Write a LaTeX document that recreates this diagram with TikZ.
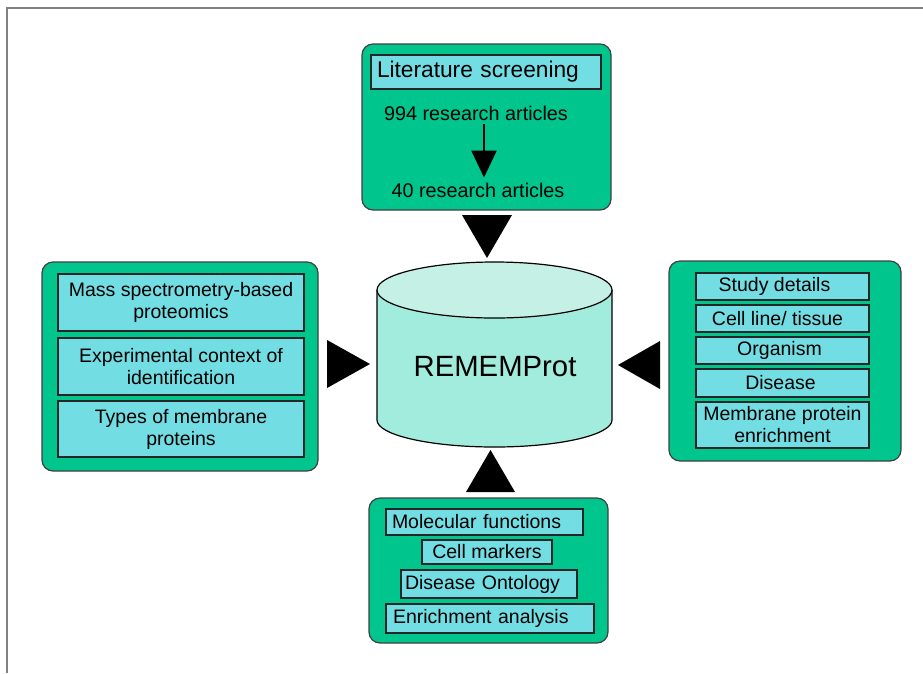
\documentclass[tikz,border=0pt]{standalone}
\usepackage{fontspec}
\setmainfont{Liberation Sans}
\usetikzlibrary{arrows.meta}
\definecolor{boxgreen}{RGB}{0,197,140}
\definecolor{boxcyan}{RGB}{114,221,227}
\definecolor{dbtop}{RGB}{196,240,230}
\definecolor{dbbody}{RGB}{162,236,221}
\definecolor{edgegray}{RGB}{64,64,64}
\definecolor{framegray}{RGB}{128,128,128}
\begin{document}
\begin{tikzpicture}[x=1pt,y=-1pt,
    outerbox/.style={draw=edgegray,fill=boxgreen,line width=1.2pt,rounded corners=11pt,inner sep=0pt},
    itembox/.style={draw=black!85,fill=boxcyan,line width=1.3pt,inner sep=0pt,font=\fontsize{19.5}{22}\selectfont,align=center},
    plain/.style={inner sep=0pt,font=\fontsize{19.8}{22}\selectfont},
    pointer/.style={fill=black}]
    \useasboundingbox (0,0) rectangle (923,673);
    \draw[framegray,line width=1.5pt] (923,8) -- (7,8) -- (7,673);

    % literature screening
    \node[outerbox,minimum width=249,minimum height=166] (screen) at (486.5,127) {};
    \node[itembox,minimum width=230,minimum height=34,inner xsep=6pt,text width=218pt,align=left,font=\fontsize{22.7}{24}\selectfont] (lit) at (486,72) {Literature screening};
    \node[plain] (all) at (476,113) {994 research articles};
    \node[plain] (kept) at (478,190) {40 research articles};
    \draw[line width=2.5pt,-{Triangle[length=27pt,width=25pt]}] ([xshift=8pt,yshift=-4pt]all.south) -- ([xshift=6pt,yshift=5pt]kept.north);

    % database
    \filldraw[fill=dbbody,draw=black,line width=1.2pt] (377,290) -- (377,420) arc[start angle=180,end angle=0,x radius=117.5,y radius=27] -- (612,290);
    \filldraw[fill=dbtop,draw=black,line width=1.2pt] (494.5,290) ellipse[x radius=117.5,y radius=28];
    \node[inner sep=0pt,font=\fontsize{29.3}{32}\selectfont] (db) at (495,367) {REMEMProt};

    % proteomics
    \node[outerbox,minimum width=276,minimum height=209] (prot) at (180,366.5) {};
    \node[itembox,minimum width=246,minimum height=57] (ms) at (181,302.5) {Mass spectrometry-based\\proteomics};
    \node[itembox,minimum width=246,minimum height=57] (ctx) at (181,366.5) {Experimental context of\\identification};
    \node[itembox,minimum width=246,minimum height=56] (types) at (181,429) {Types of membrane\\proteins};

    % study details
    \node[outerbox,minimum width=232,minimum height=200] (study) at (785,361) {};
    \node[itembox,minimum width=173,minimum height=27] (det) at (782.5,286.5) {\hspace*{-16pt}Study details};
    \node[itembox,minimum width=173,minimum height=27] (cell) at (782.5,318.5) {\hspace*{-10pt}Cell line/ tissue};
    \node[itembox,minimum width=173,minimum height=27] (org) at (782.5,350.5) {\hspace*{-6pt}Organism};
    \node[itembox,minimum width=173,minimum height=28] (dis) at (782.5,383) {\hspace*{-4pt}Disease};
    \node[itembox,minimum width=173,minimum height=46] (enr) at (782.5,425) {Membrane protein\\enrichment};

    % annotation
    \node[outerbox,minimum width=239,minimum height=145] (annot) at (488.5,570.5) {};
    \node[itembox,minimum width=197,minimum height=26,inner xsep=6pt,text width=185pt,align=left] (mol) at (484.5,522) {Molecular functions};
    \node[itembox,minimum width=130,minimum height=24] (mark) at (487,552) {Cell markers};
    \node[itembox,minimum width=176,minimum height=28,inner xsep=4pt,text width=168pt,align=left] (onto) at (489,584) {Disease Ontology};
    \node[itembox,minimum width=208,minimum height=29,inner xsep=7pt,text width=194pt,align=left] (ana) at (490,618.5) {Enrichment analysis};

    % pointers to the database
    \fill[pointer] (462,215) -- (512,215) -- (487,258) -- cycle;
    \fill[pointer] (327,340) -- (370,364) -- (327,388) -- cycle;
    \fill[pointer] (660,341) -- (618,365) -- (660,389) -- cycle;
    \fill[pointer] (466,492) -- (515,492) -- (490.5,450) -- cycle;
\end{tikzpicture}
\end{document}
